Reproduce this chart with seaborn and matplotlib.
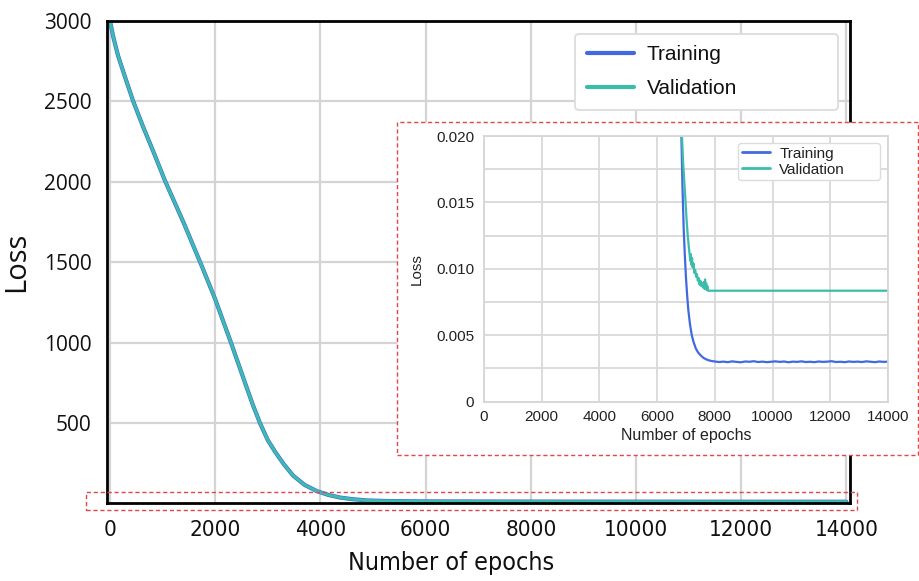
import matplotlib
matplotlib.use("Agg")
import matplotlib.pyplot as plt
from matplotlib import font_manager
from matplotlib.font_manager import FontProperties
from matplotlib.patches import Rectangle
import seaborn as sns

# ---- full training run (overview) ----
main_epochs = [0, 60, 150, 280, 440, 630, 820, 1040, 1400, 1740, 2000, 2300,
               2450, 2600, 2720, 2850, 3000, 3135, 3300, 3480, 3700, 3930,
               4150, 4370, 4600, 4880, 5300, 6000, 8000, 10000, 12000, 14000]
main_train_loss = [2995, 2900, 2785, 2655, 2500, 2340, 2190, 2010, 1745, 1480,
                   1270, 1000, 860, 720, 610, 502, 395, 325, 248, 176, 118, 80,
                   56, 40, 30, 22, 18, 16, 15, 14.5, 14, 14]
main_val_loss = [2995, 2900, 2785, 2655, 2500, 2340, 2190, 2010, 1745, 1480,
                 1270, 1000, 860, 720, 610, 502, 395, 325, 248, 176, 118, 80,
                 56, 40, 30, 22, 18, 16, 15, 14.5, 14, 14]
main_xticks = [0, 2000, 4000, 6000, 8000, 10000, 12000, 14000]
main_yticks = [500, 1000, 1500, 2000, 2500, 3000]

# ---- zoom on the converged region ----
inset_train_epochs = ([6700, 6790, 6840, 6880, 6920, 6960, 7000, 7040, 7080,
                       7140, 7200, 7260, 7340, 7420, 7500, 7600, 7700, 7800,
                       7900] + list(range(8000, 14001, 150)))
inset_train_loss = [0.0300, 0.0235, 0.0200, 0.0160, 0.0130, 0.0110, 0.0093,
                    0.0080, 0.0069, 0.0058, 0.0050, 0.0045, 0.0040, 0.0037,
                    0.0035, 0.0033, 0.00318, 0.00310, 0.00305,
                    0.00302, 0.00298, 0.00301, 0.00297, 0.00303, 0.00299,
                    0.00296, 0.00302, 0.00300, 0.00304, 0.00298, 0.00301,
                    0.00297, 0.00300, 0.00303, 0.00299, 0.00302, 0.00296,
                    0.00301, 0.00299, 0.00303, 0.00298, 0.00300, 0.00297,
                    0.00302, 0.00299, 0.00301, 0.00304, 0.00298, 0.00300,
                    0.00297, 0.00302, 0.00299, 0.00301, 0.00298, 0.00303,
                    0.00300, 0.00297, 0.00302, 0.00299, 0.00301]
inset_val_epochs = [6780, 6860, 6900, 6940, 6980, 7020, 7060, 7100, 7130, 7150,
                    7170, 7190, 7210, 7230, 7260, 7290, 7320, 7350, 7380, 7410,
                    7440, 7470, 7500, 7530, 7560, 7590, 7620, 7640, 7660, 7680,
                    7700, 7720, 7740, 7760, 7790, 8000, 14000]
inset_val_loss = [0.0300, 0.0200, 0.0180, 0.0166, 0.0152, 0.0137, 0.0125,
                  0.0116, 0.0110, 0.0106, 0.0111, 0.0103, 0.0108, 0.0101,
                  0.0104, 0.0097, 0.0099, 0.0094, 0.0096, 0.0091, 0.0093,
                  0.0088, 0.0091, 0.0087, 0.0089, 0.0086, 0.0090, 0.0085,
                  0.0092, 0.0085, 0.0089, 0.0084, 0.0087, 0.00835, 0.00835,
                  0.00835, 0.00835]
inset_xticks = [0, 2000, 4000, 6000, 8000, 10000, 12000, 14000]
inset_yticks = [0, 0.0025, 0.005, 0.0075, 0.010, 0.0125, 0.015, 0.0175, 0.020]
inset_ylabels = ["0", "", "0.005", "", "0.010", "", "0.015", "", "0.020"]

BLUE = "#4169e1"
TEAL = "#3cbcaa"
RED = "#e0474c"

sns.set_theme(style="white")
plt.rcParams["font.family"] = ["Liberation Sans", "DejaVu Sans"]


def narrow_font_file():
    """Return the file of an upright, regular-weight narrow sans font, if any."""
    order = ["Liberation Sans Narrow", "Open Sans", "Noto Sans", "Roboto",
             "Lato", "Inter", "DejaVu Sans", "Liberation Sans"]
    found = []
    for f in font_manager.fontManager.ttflist:
        st = f.stretch
        cond = ("Narrow" in f.name or "Condensed" in f.name
                or (isinstance(st, str) and st in ("condensed", "semi-condensed"))
                or (isinstance(st, (int, float)) and 300 <= st < 500))
        reg = f.weight in (400, "normal", "regular", "book", "Regular")
        if cond and reg and f.style == "normal":
            rank = order.index(f.name) if f.name in order else len(order)
            found.append((rank, f.fname))
    found.sort()
    return found[0][1] if found else None


narrow = narrow_font_file()
if narrow:
    xtick_fp = FontProperties(fname=narrow, size=16)
    xlab_fp = FontProperties(fname=narrow, size=18)
else:
    xtick_fp = FontProperties(family="Liberation Sans", size=14)
    xlab_fp = FontProperties(family="Liberation Sans", size=17.5)

fig = plt.figure(figsize=(9.19, 5.81), dpi=100)
W, H = 919, 581


def fig_box(x0, y0, x1, y1):
    return [x0 / W, 1 - y1 / H, (x1 - x0) / W, (y1 - y0) / H]


# ---------------- overview axes ----------------
ax = fig.add_axes(fig_box(107, 21, 850, 503))
sns.lineplot(x=main_epochs, y=main_train_loss, ax=ax, color=BLUE, lw=3.0,
             label="Training", sort=False)
sns.lineplot(x=main_epochs, y=main_val_loss, ax=ax, color=TEAL, lw=2.1,
             label="Validation", sort=False)
ax.set_xlim(-60, 14070)
ax.set_ylim(6, 3000)
ax.set_xticks(main_xticks, labels=[str(v) for v in main_xticks],
              fontproperties=xtick_fp)
ax.set_yticks(main_yticks, labels=[str(v) for v in main_yticks],
              family=["Open Sans", "DejaVu Sans"], fontsize=15)
ax.grid(True, color="#d4d4d4", lw=1.6)
ax.set_axisbelow(True)
for s in ax.spines.values():
    s.set_color("black")
    s.set_linewidth(2.0)
ax.tick_params(length=0, colors="#111111")
ax.tick_params(axis="x", pad=12)
ax.tick_params(axis="y", pad=11)
ax.set_xlabel("Number of epochs", fontproperties=xlab_fp, color="#111111")
ax.set_ylabel("Loss", fontsize=21, family=["Open Sans", "DejaVu Sans"],
              color="#111111")
ax.xaxis.set_label_coords(0.463, -0.1)
ax.yaxis.set_label_coords(-0.102, 0.5)

leg = ax.legend(loc="upper left", bbox_to_anchor=(0.63, 0.3, 0.354, 0.673),
                mode="expand", borderaxespad=0, fontsize=15,
                handlelength=2.3, handletextpad=0.6, borderpad=0.55,
                labelspacing=0.72, fancybox=True, framealpha=1)
leg.get_frame().set_edgecolor("#dcdcdc")
leg.get_frame().set_linewidth(1.3)
for h in leg.get_lines():
    h.set_linewidth(3.0)
for t in leg.get_texts():
    t.set_color("#111111")

# red dashed marker along the bottom of the overview
fig.patches.append(Rectangle((86 / W, 1 - 510 / H), (857 - 86) / W, 18 / H,
                             transform=fig.transFigure, fill=False,
                             edgecolor=RED, lw=1.0, ls=(0, (3, 2)), zorder=2))

# ---------------- zoomed panel ----------------
fig.patches.append(Rectangle((397 / W, 1 - 455 / H), (918 - 397) / W,
                             (455 - 122) / H, transform=fig.transFigure,
                             facecolor="white", edgecolor=RED, lw=1.0,
                             ls=(0, (3, 2)), zorder=2))

ax2 = fig.add_axes(fig_box(484, 136, 888, 401.6))
ax2.set_zorder(3)
sns.lineplot(x=inset_train_epochs, y=inset_train_loss, ax=ax2, color=BLUE,
             lw=1.6, label="Training", sort=False)
sns.lineplot(x=inset_val_epochs, y=inset_val_loss, ax=ax2, color=TEAL,
             lw=1.6, label="Validation", sort=False)
ax2.set_xlim(0, 14000)
ax2.set_ylim(0, 0.020)
ax2.set_xticks(inset_xticks)
ax2.set_yticks(inset_yticks)
ax2.set_yticklabels(inset_ylabels)
ax2.grid(True, color="#d9d9d9", lw=1.3)
ax2.set_axisbelow(True)
for s in ax2.spines.values():
    s.set_color("#d6d6d6")
    s.set_linewidth(1.3)
ax2.tick_params(length=0, labelsize=11, colors="#222222")
ax2.tick_params(axis="x", pad=6)
ax2.tick_params(axis="y", pad=7)
ax2.set_xlabel("Number of epochs", fontsize=11.5, labelpad=3, color="#222222")
ax2.set_ylabel("Loss", fontsize=11, labelpad=9, color="#222222")

leg2 = ax2.legend(loc="upper left", bbox_to_anchor=(0.629, 0.3, 0.351, 0.674),
                  mode="expand", borderaxespad=0, fontsize=11,
                  handlelength=1.85, handletextpad=0.6, borderpad=0.25,
                  labelspacing=0.12, fancybox=True, framealpha=1)
leg2.get_frame().set_edgecolor("#dcdcdc")
leg2.get_frame().set_linewidth(1.0)
for h in leg2.get_lines():
    h.set_linewidth(2.0)
for t in leg2.get_texts():
    t.set_color("#222222")

fig.savefig("out.png", dpi=100)
